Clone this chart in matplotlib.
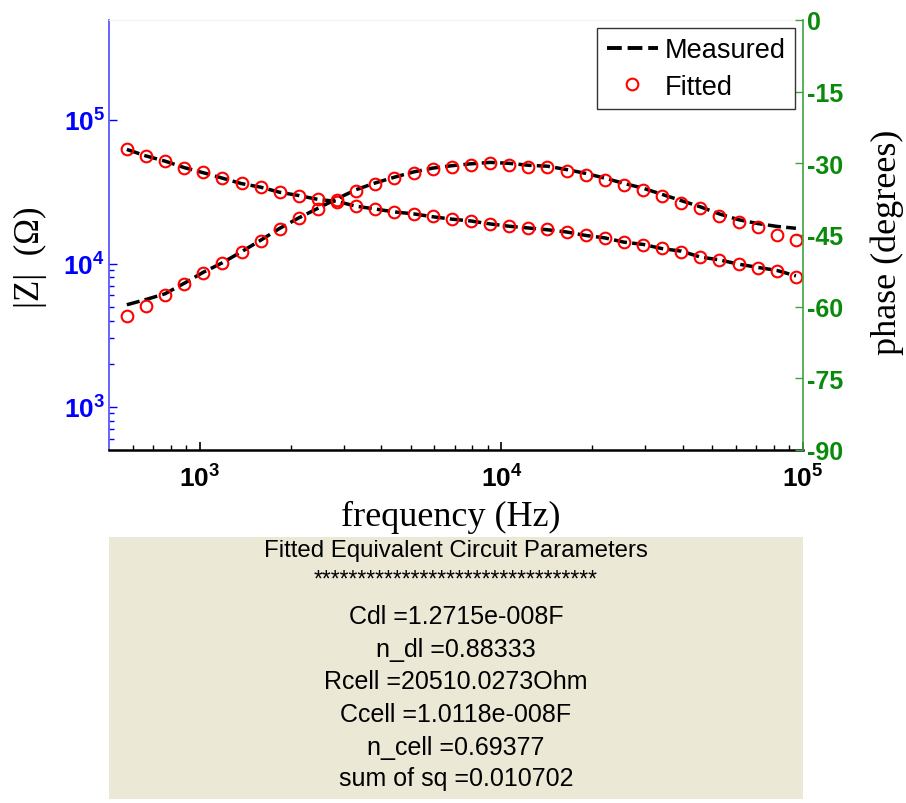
import matplotlib.pyplot as plt
from matplotlib.ticker import FixedLocator, NullFormatter
from matplotlib.lines import Line2D

plt.rcParams['mathtext.fontset'] = 'custom'
plt.rcParams['mathtext.rm'] = 'Liberation Sans'
plt.rcParams['mathtext.bf'] = 'Liberation Sans:bold'

# ==============================
# DATA
# ==============================
freq = [573, 663, 767, 888, 1027, 1189, 1375, 1591, 1841, 2131, 2466, 2853,
        3302, 3820, 4421, 5116, 5919, 6849, 7925, 9170, 10610, 12280, 14210, 16440,
        19030, 22020, 25480, 29480, 34110, 39470, 45670, 52850, 61150, 70760, 81880, 94750]

mag_fitted = [62800, 56100, 52000, 46500, 43200, 39300, 36200, 34000, 31500, 29700, 28100, 27000,
              25200, 23900, 23000, 22100, 21300, 20300, 19900, 18800, 18300, 17600, 17300, 16500,
              15800, 15000, 14200, 13500, 12800, 12100, 11100, 10500, 9930, 9350, 8910, 8020]
mag_measured = [62500, 56300, 51800, 46700, 43000, 39400, 36100, 34100, 31400, 29800, 28000, 27100,
                25100, 24000, 22900, 22200, 21200, 20400, 19800, 18900, 18200, 17700, 17200, 16600,
                15700, 15100, 14100, 13600, 12700, 12200, 11100, 10600, 9900, 9400, 8950, 8200]

phase_fitted = [-61.9, -59.9, -57.6, -55.3, -53.0, -50.9, -48.6, -46.2, -43.7, -41.5, -39.6, -37.6,
                -35.7, -34.3, -33.1, -32.0, -31.2, -30.7, -30.3, -30.0, -30.3, -30.7, -30.8, -31.6,
                -32.4, -33.4, -34.5, -35.5, -36.8, -38.2, -39.4, -41.0, -42.2, -43.4, -44.9, -46.0]
phase_measured = [-59.6, -58.5, -57.3, -55.1, -52.8, -50.8, -48.5, -46.1, -43.6, -41.4, -39.4, -37.4,
                  -35.5, -34.1, -32.9, -31.8, -31.0, -30.5, -30.1, -29.8, -30.0, -30.4, -30.6, -31.3,
                  -32.1, -33.1, -34.2, -35.2, -36.5, -37.8, -39.1, -40.6, -41.8, -42.6, -43.2, -43.6]

mag_ticks = [1e3, 1e4, 1e5]
mag_minor = [600, 700, 800, 900, 2000, 3000, 4000, 5000, 6000, 7000, 8000, 9000]
mag_ticklabels = [r'$\mathbf{10^{3}}$', r'$\mathbf{10^{4}}$', r'$\mathbf{10^{5}}$']
freq_ticks = [1e3, 1e4, 1e5]
freq_minor = [600, 700, 800, 900, 2000, 3000, 4000, 5000, 6000, 7000, 8000, 9000,
              20000, 30000, 40000, 50000, 60000, 70000, 80000, 90000]
freq_ticklabels = [r'$\mathbf{10^{3}}$', r'$\mathbf{10^{4}}$', r'$\mathbf{10^{5}}$']
phase_ticks = [-90, -75, -60, -45, -30, -15, 0]

panel_title = 'Fitted Equivalent Circuit Parameters'
panel_sep = '*' * 32
panel_lines = ['Cdl =1.2715e-008F', 'n_dl =0.88333', 'Rcell =20510.0273Ohm',
               'Ccell =1.0118e-008F', 'n_cell =0.69377', 'sum of sq =0.010702']

# ==============================
# FIGURE
# ==============================
W, H = 906, 804
fig = plt.figure(figsize=(W / 100, H / 100), dpi=100)

ax = fig.add_axes([109 / W, 1 - 451 / H, 694 / W, 430 / H])
ax.set_xscale('log')
ax.set_yscale('log')
ax.set_xlim(500, 1e5)
ax.set_ylim(500, 5e5)

dash = (0, (3.8, 1.5))
ax.plot(freq, mag_measured, color='black', lw=2.5, ls=dash)
ax.plot(freq, mag_fitted, 'o', ms=8.4, mfc='none', mec='red', mew=1.5)

ax2 = ax.twinx()
ax2.set_ylim(-90, 0)
ax2.plot(freq, phase_measured, color='black', lw=2.5, ls=dash)
ax2.plot(freq, phase_fitted, 'o', ms=8.4, mfc='none', mec='red', mew=1.5)

# spines
ax.spines['top'].set_color('#f2f2f2')
ax.spines['right'].set_visible(False)
ax.spines['left'].set_color('#4a4aff')
ax.spines['left'].set_linewidth(1.2)
ax.spines['bottom'].set_linewidth(1.8)
for s in ['top', 'left', 'bottom']:
    ax2.spines[s].set_visible(False)
ax2.spines['right'].set_color('#3fa33f')
ax2.spines['right'].set_linewidth(1.2)

# ticks
ax.yaxis.set_major_locator(FixedLocator(mag_ticks))
ax.set_yticklabels(mag_ticklabels)
ax.yaxis.set_minor_locator(FixedLocator(mag_minor))
ax.yaxis.set_minor_formatter(NullFormatter())
ax.xaxis.set_major_locator(FixedLocator(freq_ticks))
ax.set_xticklabels(freq_ticklabels)
ax.xaxis.set_minor_locator(FixedLocator(freq_minor))
ax.xaxis.set_minor_formatter(NullFormatter())

ax.tick_params(axis='y', which='both', direction='in', colors='blue', labelsize=19, pad=3)
ax.tick_params(axis='y', which='major', length=6, width=1)
ax.tick_params(axis='y', which='minor', length=3.5, width=1)
ax.tick_params(axis='x', which='both', direction='in', colors='black', labelsize=19, pad=11)
ax.tick_params(axis='x', which='major', length=6, width=1.2)
ax.tick_params(axis='x', which='minor', length=3.5, width=1)

ax2.set_yticks(phase_ticks)
ax2.set_yticklabels([str(t) for t in phase_ticks])
ax2.tick_params(axis='y', direction='in', colors='#3fa33f', length=6, width=1, pad=3)
for lab in ax2.get_yticklabels():
    lab.set_color('#0a8a0a')
    lab.set_fontweight('bold')
    lab.set_fontsize(18)
    lab.set_family('Liberation Sans')

# axis titles
fig.text(451 / W, 1 - 517 / H, 'frequency (Hz)', family='Liberation Serif', fontsize=26,
         ha='center', va='center')
fig.text(30 / W, 1 - 257 / H, '|Z|  (\u03a9)', family='Liberation Serif', fontsize=25,
         rotation=90, ha='center', va='center')
fig.text(887 / W, 1 - 242 / H, 'phase (degrees)', family='Liberation Serif', fontsize=26,
         rotation=90, ha='center', va='center')

# legend
leg = ax2.legend([Line2D([], [], color='black', lw=2.8, ls=dash),
                  Line2D([], [], ls='none', marker='o', ms=8.4, mfc='none', mec='red', mew=1.5)],
                 ['Measured', 'Fitted'], loc='upper right', fancybox=False, framealpha=1,
                 edgecolor='#333333', prop={'family': 'Liberation Sans', 'size': 19.5},
                 handlelength=1.9, handletextpad=0.25, borderpad=0.35, labelspacing=0.4,
                 borderaxespad=0.28, numpoints=1)
leg.get_frame().set_linewidth(1.0)

# ==============================
# PARAMETER PANEL
# ==============================
ax3 = fig.add_axes([109 / W, 1 - 800 / H, 694 / W, 262 / H])
ax3.set_facecolor('#ebe8d6')
for s in ax3.spines.values():
    s.set_visible(False)
ax3.set_xticks([])
ax3.set_yticks([])
ax3.set_xlim(0, 1)
ax3.set_ylim(800, 538)

ax3.text(0.5, 551, panel_title, family='Liberation Sans', fontsize=17.3, ha='center', va='center')
ax3.text(0.5, 580, panel_sep, family='Liberation Sans', fontsize=16.3, ha='center', va='center')
row_y = [617, 650, 682, 715, 748, 779]
for y, s in zip(row_y, panel_lines):
    ax3.text(0.5, y, s, family='Liberation Sans', fontsize=18, ha='center', va='center')

fig.savefig('out.png', dpi=100)
